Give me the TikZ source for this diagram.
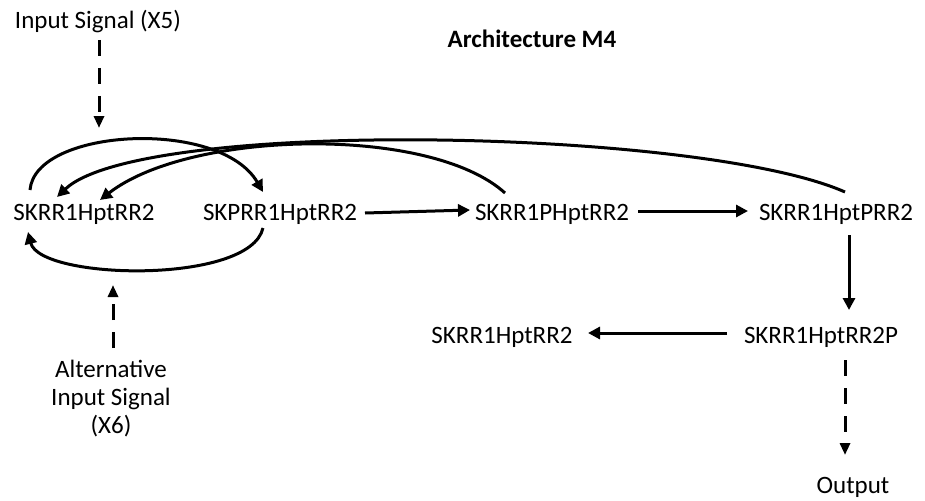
\documentclass[tikz,border=0pt]{standalone}
\usepackage{fontspec}
\setmainfont{Carlito}
\usetikzlibrary{arrows.meta}

\tikzset{
  lbl/.style={inner sep=0pt, anchor=base, font=\fontsize{25}{28}\selectfont},
  link/.style={line width=3pt, -{Triangle[length=12pt,width=12pt]}},
  sig/.style={line width=3pt, dash pattern=on 16pt off 12pt, -{Triangle[length=12pt,width=10pt]}},
}

\begin{document}
\begin{tikzpicture}[x=1pt,y=-1pt]
\useasboundingbox (0,0) rectangle (925,500);

% labels and species
\node[lbl] (in5) at (98,29) {Input Signal (X5)};
\node[lbl, font=\fontsize{25}{28}\selectfont\bfseries] (title) at (532,48) {Architecture M4};
\node[lbl] (n1) at (84,220) {SKRR1HptRR2};
\node[lbl] (n2) at (280,220) {SKPRR1HptRR2};
\node[lbl] (n3) at (552,220) {SKRR1PHptRR2};
\node[lbl] (n4) at (836,220) {SKRR1HptPRR2};
\node[lbl] (n5) at (821,343) {SKRR1HptRR2P};
\node[lbl] (n6) at (502,343) {SKRR1HptRR2};
\node[lbl, anchor=north, align=center] (alt) at (111,360) {Alternative\\Input Signal\\(X6)};
\node[lbl] (out) at (853,493) {Output};

% free ends of the signal arrows
\coordinate (t5) at (99,128);
\coordinate (t6) at (113,285);

% input signals
\draw[sig] ([shift={(1,11)}]in5.base) -- (t5);
\draw[sig] ([shift={(2,-12)}]alt.north) -- (t6);

% loop between n1 and n2
\draw[link] ([shift={(-54,-30)}]n1.base)
  .. controls ([shift={(-49,-92)}]n1.base) and ([shift={(-60,-102)}]n2.base)
  .. ([shift={(-17,-28)}]n2.base);
\draw[link] ([shift={(-17,8)}]n2.base)
  .. controls ([shift={(-30,65)}]n2.base) and ([shift={(-44,60)}]n1.base)
  .. ([shift={(-56,12)}]n1.base);

% returns to n1
\draw[link] ([shift={(-47,-27)}]n3.base)
  .. controls ([shift={(-122,-95)}]n3.base) and ([shift={(106,-90)}]n1.base)
  .. ([shift={(16,-20)}]n1.base);
\draw[link] ([shift={(9,-28)}]n4.base)
  .. controls ([shift={(-136,-92)}]n4.base) and ([shift={(56,-102)}]n1.base)
  .. ([shift={(-27,-23)}]n1.base);

% phosphorelay chain
\draw[link] ([shift={(85,-7)}]n2.base) -- ([shift={(-82,-10)}]n3.base);
\draw[link] ([shift={(86,-9)}]n3.base) -- ([shift={(-88,-9)}]n4.base);
\draw[link] ([shift={(13,15)}]n4.base) -- ([shift={(28,-33)}]n5.base);
\draw[link] ([shift={(-94,-10)}]n5.base) -- ([shift={(86,-10)}]n6.base);

% output
\draw[sig] ([shift={(24,17)}]n5.base) -- ([shift={(-8,-38)}]out.base);
\end{tikzpicture}
\end{document}
